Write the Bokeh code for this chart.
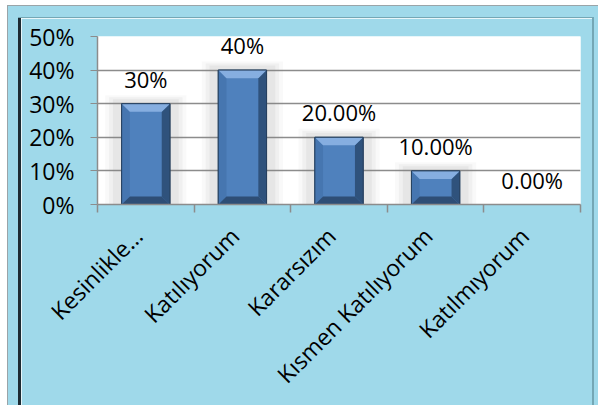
from bokeh.plotting import figure
from bokeh.models import Range1d, FixedTicker, NumeralTickFormatter, ColumnDataSource, Spacer
from bokeh.layouts import column, row
from bokeh.core.properties import value
from bokeh.embed import file_html
from bokeh.resources import INLINE
import math

categories = ["Kesinlikle…", "Katılıyorum", "Kararsızım", "Kısmen Katılıyorum", "Katılmıyorum"]
values = [0.30, 0.40, 0.20, 0.10, 0.00]
value_labels = ["30%", "40%", "20.00%", "10.00%", "0.00%"]
y_ticks = [0.0, 0.1, 0.2, 0.3, 0.4, 0.5]

FONT = "Open Sans"
BG = "#9FD9EA"
DARK = "#1d2b33"
TEAL = "#74a7b5"
GRAY = "#9aa4a8"
WHITE = "#ffffff"

n = len(categories)
centers = [i + 0.5 for i in range(n)]
label_pos = [c - 0.08 for c in centers]

p = figure(width=571, height=387, output_backend="svg", toolbar_location=None,
           x_range=Range1d(0, n), y_range=Range1d(0, 0.5),
           min_border_left=76, min_border_right=12, min_border_top=18, min_border_bottom=201)
p.border_fill_color = BG
p.background_fill_color = "white"
p.outline_line_color = None

# grid
p.xgrid.grid_line_color = None
p.ygrid.ticker = FixedTicker(ticks=y_ticks)
p.ygrid.grid_line_color = "#8c8c8c"
p.ygrid.grid_line_width = 1.5

# y axis
p.yaxis.ticker = FixedTicker(ticks=y_ticks)
p.yaxis.formatter = NumeralTickFormatter(format="0%")
p.yaxis.axis_line_color = "#8c8c8c"
p.yaxis.axis_line_width = 1.5
p.yaxis.major_tick_line_color = "#8c8c8c"
p.yaxis.major_tick_out = 7
p.yaxis.major_tick_in = 0
p.yaxis.minor_tick_line_color = None
p.yaxis.major_label_text_font = FONT
p.yaxis.major_label_text_font_size = "23px"
p.yaxis.major_label_text_color = "black"
p.yaxis.major_label_standoff = 16

# x axis
p.xaxis.ticker = FixedTicker(ticks=label_pos, minor_ticks=list(range(n + 1)))
p.xaxis.major_label_overrides = {c: cat for c, cat in zip(label_pos, categories)}
p.xaxis.major_label_orientation = math.pi / 4
p.xaxis.axis_line_color = "#8c8c8c"
p.xaxis.axis_line_width = 1.5
p.xaxis.major_tick_line_color = None
p.xaxis.minor_tick_line_color = "#8c8c8c"
p.xaxis.minor_tick_line_width = 1.5
p.xaxis.minor_tick_out = 8
p.xaxis.minor_tick_in = 0
p.xaxis.major_label_text_font = FONT
p.xaxis.major_label_text_font_size = "23px"
p.xaxis.major_label_text_color = "black"
p.xaxis.major_label_standoff = 19

# bars
bw = 0.25
bx = 0.085
by = 0.024
shown = [(c, v) for c, v in zip(centers, values) if v > 0]

# soft shadow
for k, a in [(0.17, 0.05), (0.13, 0.07), (0.09, 0.09)]:
    p.quad(left=[c - bw - k for c, v in shown], right=[c + bw + k for c, v in shown],
           bottom=[0] * len(shown), top=[v + k * 0.15 for c, v in shown],
           fill_color="#808080", fill_alpha=a, line_color=None)

p.quad(left=[c - bw for c, v in shown], right=[c + bw for c, v in shown],
       bottom=[0] * len(shown), top=[v for c, v in shown],
       fill_color="#4F81BD", line_color="#27415f", line_width=1)

def bevel(side):
    xs, ys = [], []
    for c, v in shown:
        l, r, t, b = c - bw, c + bw, v, 0
        il, ir, it, ib = l + bx, r - bx, t - by, b + by
        if side == "top":
            xs.append([l, r, ir, il]); ys.append([t, t, it, it])
        elif side == "bottom":
            xs.append([l, r, ir, il]); ys.append([b, b, ib, ib])
        elif side == "left":
            xs.append([l, il, il, l]); ys.append([t, it, ib, b])
        else:
            xs.append([r, ir, ir, r]); ys.append([t, it, ib, b])
    return xs, ys

for side, col in [("left", "#4676B0"), ("right", "#2F527C"), ("bottom", "#2E4E76"), ("top", "#86AEE0")]:
    xs, ys = bevel(side)
    p.patches(xs=xs, ys=ys, fill_color=col, line_color=None)

p.quad(left=[c - bw for c, v in shown], right=[c + bw for c, v in shown],
       bottom=[0] * len(shown), top=[v for c, v in shown],
       fill_color=None, line_color="#27415f", line_width=1)

# value labels
src = ColumnDataSource(dict(x=centers, y=values, t=value_labels))
p.text(x="x", y="y", text="t", source=src, text_font=value(FONT), text_font_size="22px",
       text_align="center", text_baseline="middle", y_offset=-25, text_color="black")


def block(w, h, color):
    return Spacer(width=w, height=h, styles={"background-color": color})


inner = column(
    block(590, 11, BG),
    row(block(10, 1, BG), block(576, 1, TEAL), block(4, 1, BG)),
    row(block(10, 387, BG), block(3, 387, DARK), p, block(2, 387, TEAL), block(4, 387, BG)),
)

layout = row(
    block(7, 405, WHITE),
    column(block(591, 5, WHITE), block(591, 1, GRAY),
           row(block(1, 399, GRAY), inner)),
)

open("out.html", "w").write(file_html(layout, INLINE))
